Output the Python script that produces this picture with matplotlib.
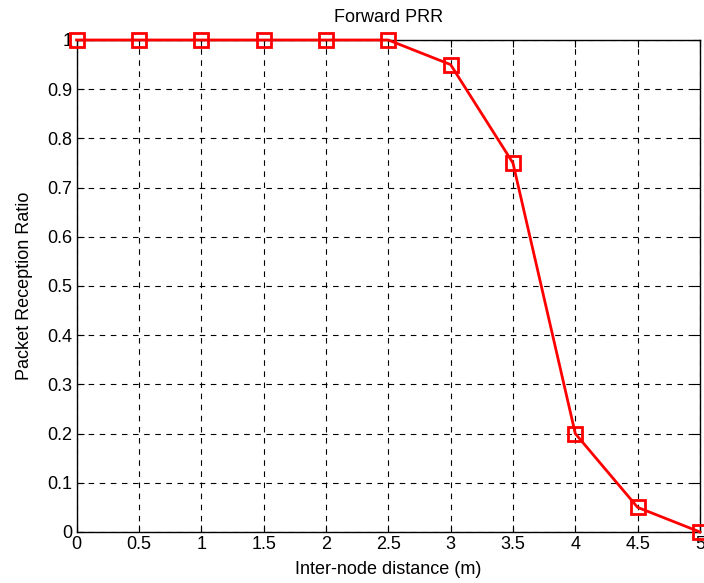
import numpy as np
import matplotlib
matplotlib.use('Agg')
from matplotlib import pyplot as plt
plt.rcParams.update({'font.family': 'Liberation Sans', 'font.size': 13})

## Data
distance = [0, 0.5, 1, 1.5, 2, 2.5, 3, 3.5, 4, 4.5, 5]
prr = [1, 1, 1, 1, 1, 1, 0.95, 0.75, 0.2, 0.05, 0]
x_ticks = [0, 0.5, 1, 1.5, 2, 2.5, 3, 3.5, 4, 4.5, 5]
y_ticks = [0, 0.1, 0.2, 0.3, 0.4, 0.5, 0.6, 0.7, 0.8, 0.9, 1]

fig = plt.figure(figsize=(7.04, 5.83), dpi=100)
ax = fig.add_axes([0.1087, 0.0875, 0.8856, 0.8439])
ax.plot(distance, prr, '-s', color='red', lw=2, ms=10, mfc='none', mew=2, clip_on=False, zorder=5)

ax.set_xlim(0, 5)
ax.set_ylim(0, 1)
ax.set_xticks(x_ticks)
ax.set_xticklabels(['%g' % v for v in x_ticks])
ax.set_yticks(y_ticks)
ax.set_yticklabels(['%g' % v for v in y_ticks])
ax.grid(True, color='black', ls=(0, (5, 5)), lw=0.8)
ax.tick_params(direction='in', top=True, right=True, length=5, pad=3)
for s in ax.spines.values():
    s.set_linewidth(1)

ax.set_xlabel('Inter-node distance (m)', labelpad=6)
ax.set_ylabel('Packet Reception Ratio', labelpad=10)
ax.set_title('Forward PRR', fontsize=13, pad=13)

fig.savefig('out.png', dpi=100)
